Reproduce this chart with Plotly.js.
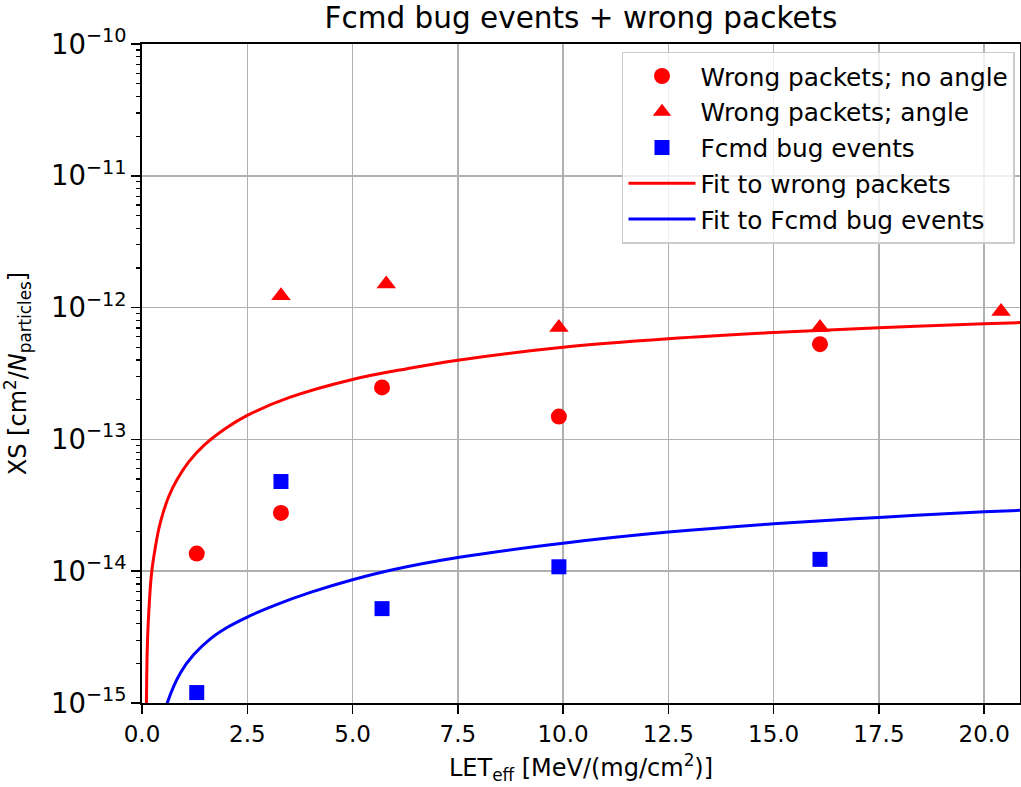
<!DOCTYPE html>
<html>
<head>
<meta charset="utf-8">
<script src="https://cdn.plot.ly/plotly-3.0.1.min.js"></script>
<style>
  html, body { margin: 0; padding: 0; background: #ffffff; }
  #chart { width: 1021px; height: 787px; }
</style>
</head>
<body>
<div id="chart"></div>
<script>
// Wrong packets; no angle (circles)
const xCircle = [1.3, 3.3, 5.7, 9.9, 16.1];
const yCircle = [1.36e-14, 2.77e-14, 2.48e-13, 1.49e-13, 5.28e-13];

// Wrong packets; angle (triangles)
const xTri = [3.3, 5.8, 9.9, 16.1, 20.4];
const yTri = [1.23e-12, 1.51e-12, 7.05e-13, 7.05e-13, 9.33e-13];

// Fcmd bug events (squares)
const xSq = [1.3, 3.3, 5.7, 9.9, 16.1];
const ySq = [1.2e-15, 4.79e-14, 5.2e-15, 1.08e-14, 1.23e-14];

// Fit to wrong packets
const xRedFit = [0.098, 0.105, 0.12, 0.147, 0.226, 0.32, 0.40, 0.50, 0.64, 0.84, 1.11, 1.47, 2.0, 2.5, 3.52, 5.0, 6.3, 7.5, 10, 12.5, 15, 17.5, 20, 20.88];
const yRedFit = [8e-16, 1.0e-15, 2.2e-15, 4.0e-15, 9.6e-15, 1.54e-14, 2.10e-14, 2.77e-14, 3.72e-14, 5.0e-14, 6.75e-14, 9.0e-14, 1.22e-13, 1.52e-13, 2.09e-13, 2.85e-13, 3.44e-13, 3.99e-13, 5.0e-13, 5.8e-13, 6.47e-13, 7.03e-13, 7.53e-13, 7.7e-13];

// Fit to Fcmd bug events
const xBlueFit = [0.55, 0.60, 0.915, 1.23, 1.63, 2.02, 2.5, 3.21, 4.0, 5.0, 5.98, 7.5, 10, 12.5, 15, 17.5, 20, 20.88];
const yBlueFit = [8.5e-16, 1.0e-15, 1.70e-15, 2.33e-15, 3.08e-15, 3.74e-15, 4.49e-15, 5.60e-15, 6.90e-15, 8.61e-15, 1.03e-14, 1.27e-14, 1.63e-14, 1.98e-14, 2.29e-14, 2.56e-14, 2.82e-14, 2.90e-14];

const legendNames = ['Wrong packets; no angle', 'Wrong packets; angle', 'Fcmd bug events', 'Fit to wrong packets', 'Fit to Fcmd bug events'];

const FONT = 'DejaVu Sans, Liberation Sans, sans-serif';

const traces = [
  { x: xCircle, y: yCircle, name: legendNames[0], legendgroup: 'a', mode: 'markers', type: 'scatter',
    marker: { symbol: 'circle', size: 16, color: '#ff0000' } },
  { x: xTri, y: yTri, name: legendNames[1], legendgroup: 'b', mode: 'markers', type: 'scatter',
    marker: { symbol: 'triangle-up', size: 17, color: '#ff0000' } },
  { x: xSq, y: ySq, name: legendNames[2], legendgroup: 'c', mode: 'markers', type: 'scatter',
    marker: { symbol: 'square', size: 15, color: '#0000ff' } },
  { x: xRedFit, y: yRedFit, name: legendNames[3], legendgroup: 'd', mode: 'lines', type: 'scatter',
    line: { color: '#ff0000', width: 3, shape: 'spline', smoothing: 1, simplify: false } },
  { x: xBlueFit, y: yBlueFit, name: legendNames[4], legendgroup: 'e', mode: 'lines', type: 'scatter',
    line: { color: '#0000ff', width: 3, shape: 'spline', smoothing: 1, simplify: false } }
];

const layout = {
  width: 1021, height: 787,
  margin: { l: 142, r: 1, t: 44, b: 84 },
  paper_bgcolor: '#ffffff', plot_bgcolor: '#ffffff',
  font: { family: FONT, size: 24, color: '#000000' },
  showlegend: true,
  title: { text: 'Fcmd bug events + wrong packets', font: { family: FONT, size: 29.5, color: '#000000' },
           x: 0.5, xref: 'paper', xanchor: 'center', y: 0.977, yref: 'container', yanchor: 'middle' },
  xaxis: {
    range: [0, 20.85], tick0: 0, dtick: 2.5, tickformat: '.1f',
    showgrid: true, gridcolor: '#b0b0b0', gridwidth: 1.5, zeroline: false,
    showline: true, linecolor: '#000000', linewidth: 2, mirror: true,
    ticks: 'outside', ticklen: 9, tickwidth: 1.5, tickcolor: '#000000',
    tickfont: { family: FONT, size: 23, color: '#000000' },
    title: { text: 'LET<sub>eff</sub> [MeV/(mg/cm<sup>2</sup>)]', font: { family: FONT, size: 24 }, standoff: 14 }
  },
  yaxis: {
    type: 'log', range: [-15, -10], dtick: 1, exponentformat: 'power',
    showgrid: true, gridcolor: '#b0b0b0', gridwidth: 1.5, zeroline: false,
    showline: true, linecolor: '#000000', linewidth: 2, mirror: true,
    ticks: 'outside', ticklen: 9, tickwidth: 1.5, tickcolor: '#000000',
    minor: { ticks: 'outside', ticklen: 4.5, tickwidth: 1.2, tickcolor: '#000000', showgrid: false },
    tickfont: { family: FONT, size: 22, color: '#000000' },
    title: { text: 'XS [cm<sup>2</sup>/<i>N</i><sub>particles</sub>]', font: { family: FONT, size: 24 }, standoff: 18 }
  },
  legend: {
    x: 0.9943, xanchor: 'right', y: 0.988, yanchor: 'top',
    bgcolor: 'rgba(255,255,255,0.8)', bordercolor: '#cccccc', borderwidth: 1.5,
    font: { family: FONT, size: 24.8, color: '#000000' },
    traceorder: 'grouped', tracegroupgap: 0.5, itemwidth: 67
  },
  hovermode: false
};

Plotly.newPlot('chart', traces, layout, { displayModeBar: false, staticPlot: true });
</script>
</body>
</html>
